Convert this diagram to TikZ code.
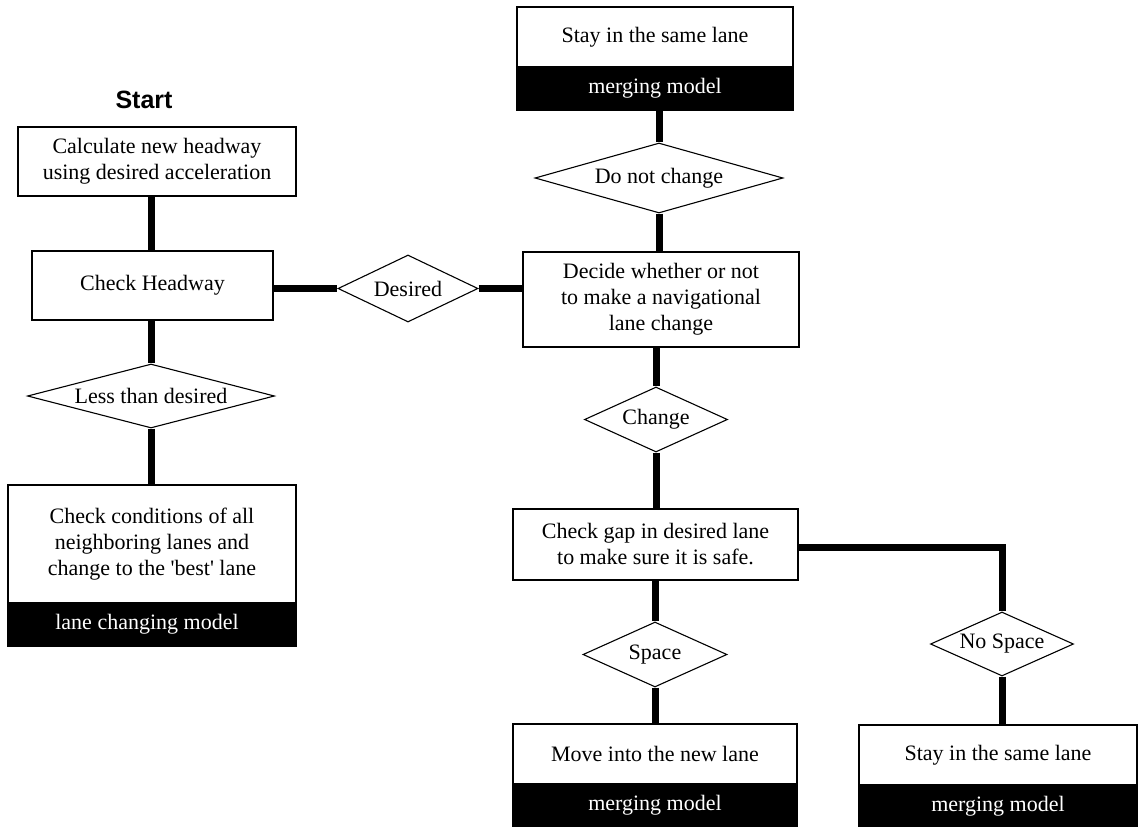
\documentclass[tikz,border=0pt]{standalone}
\usepackage{fontspec}
\setmainfont{Liberation Serif}[Ligatures=TeXOff]
\newfontfamily\startfont{Liberation Sans}
\usetikzlibrary{shapes.geometric,backgrounds}
\begin{document}
\begin{tikzpicture}[x=1pt,y=-1pt,
  txt/.style={font=\fontsize{22}{26}\selectfont},
  box/.style={txt,draw=black,line width=1.3pt,fill=white,rectangle,inner sep=0pt,align=center},
  band/.style={txt,draw=black,line width=1.3pt,fill=black,text=white,rectangle,inner sep=0pt,align=center},
  dia/.style={txt,draw=black,line width=1.1pt,fill=white,diamond,inner sep=0pt,aspect=2.2},
  conn/.style={line width=7pt,line join=miter,line cap=butt}]
\useasboundingbox (0,0) rectangle (1138,827);
% start label
\node[font=\startfont\bfseries\fontsize{25}{29}\selectfont] (start) at (144,100) {Start};
% left column
\node[box,minimum width=278,minimum height=69] (calc) at (157,161.5) {Calculate new headway\\using desired acceleration};
\node[box,minimum width=241,minimum height=69] (headway) at (152.5,285.5) {Check Headway};
\node[dia,minimum width=247,minimum height=64,aspect=3.9] (less) at (151,396) {Less than desired};
\node[box,minimum width=288,minimum height=118] (cond) at (152,544) {Check conditions of all\\neighboring lanes and\\change to the 'best' lane};
\node[band,minimum width=288,minimum height=43] (condband) at (152,624.5) {};
\node[txt,text=white,inner sep=0pt] (condbandtext) at (147,624.5) {lane changing model};
% middle
\node[dia,minimum width=140,minimum height=67] (desired) at (408,288.5) {Desired};
\node[box,minimum width=276,minimum height=95] (decide) at (661,299.5) {Decide whether or not\\to make a navigational\\lane change};
\node[box,minimum width=276,minimum height=60] (stay1) at (655,37) {Stay in the same lane};
\node[band,minimum width=276,minimum height=43] (stay1band) at (655,88.5) {merging model};
\node[dia,minimum width=248,minimum height=70,aspect=3.5] (donot) at (659,178) {Do not change};
\node[dia,minimum width=143,minimum height=65] (change) at (656,419.5) {Change};
\node[box,minimum width=285,minimum height=71] (gap) at (655.5,544.5) {Check gap in desired lane\\to make sure it is safe.};
\node[dia,minimum width=144,minimum height=65] (space) at (655,654.5) {Space};
\node[box,minimum width=284,minimum height=60] (move) at (655,754) {Move into the new lane};
\node[band,minimum width=284,minimum height=43] (moveband) at (655,805.5) {merging model};
% right
\node[dia,minimum width=143,minimum height=64] (nospace) at (1002,644) {No Space};
\node[box,minimum width=278,minimum height=60] (stay2) at (998,755) {Stay in the same lane};
\node[band,minimum width=278,minimum height=42] (stay2band) at (998,806) {merging model};
\begin{scope}[on background layer]
  \draw[conn] (less.north |- calc.south) -- (less.north |- headway.north);
  \draw[conn] (headway.south -| less.north) -- (less.north);
  \draw[conn] (less.south) -- (less.south |- cond.north);
  \draw[conn] (desired.west -| headway.east) -- (desired.west);
  \draw[conn] (desired.east) -- (desired.east -| decide.west);
  \draw[conn] (donot.north |- stay1band.south) -- (donot.north);
  \draw[conn] (donot.south) -- (donot.south |- decide.north);
  \draw[conn] (change.north |- decide.south) -- (change.north);
  \draw[conn] (change.south) -- (change.south |- gap.north);
  \draw[conn] (space.north |- gap.south) -- (space.north);
  \draw[conn] (space.south) -- (space.south |- move.north);
  \draw[conn] ([yshift=-2.5pt]gap.east) -- ([yshift=-2.5pt]gap.east -| nospace.north) -- (nospace.north);
  \draw[conn] (nospace.south) -- (nospace.south |- stay2.north);
\end{scope}
\end{tikzpicture}
\end{document}
